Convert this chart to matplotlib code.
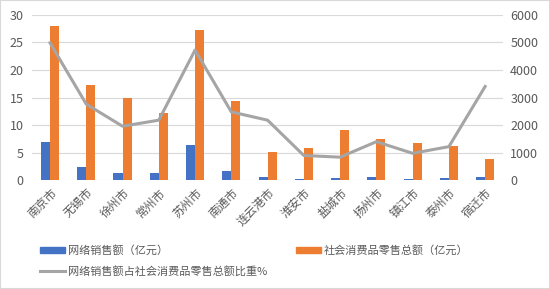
import numpy as np
import matplotlib
matplotlib.use('Agg')
import matplotlib.pyplot as plt
from matplotlib.lines import Line2D
from matplotlib.patches import Patch

plt.rcParams['font.family'] = ['Noto Sans CJK SC', 'DejaVu Sans']

cities = ['南京市', '无锡市', '徐州市', '常州市', '苏州市', '南通市', '连云港市',
          '淮安市', '盐城市', '扬州市', '镇江市', '泰州市', '宿迁市']
online = [1376, 471, 278, 254, 1280, 338, 109, 53, 76, 104, 66, 76, 131]
retail = [5600, 3452, 2982, 2450, 5456, 2873, 1026, 1183, 1811, 1485, 1340, 1244, 773]
ratio = [24.9, 13.8, 9.8, 10.9, 23.6, 12.4, 10.9, 4.5, 4.2, 7.0, 4.9, 6.1, 17.0]

blue = '#4472C4'
orange = '#ED7D31'
gray = '#A5A5A5'
txt = '#595959'

fig = plt.figure(figsize=(5.5, 2.89), dpi=100)
ax = fig.add_axes([0.058, 0.376, 0.857, 0.573])
ax2 = ax.twinx()
x = np.arange(len(cities))
w = 0.25

# bars against the right-hand scale
ax.bar(x - w / 2, online, w, color=blue)
ax.bar(x + w / 2, retail, w, color=orange)
ax.set_ylim(0, 6000)
ax.set_yticks(range(0, 6001, 1000))
ax.grid(axis='y', color='#D9D9D9', linewidth=0.8)
ax.set_axisbelow(True)
ax.set_xlim(-0.5, len(cities) - 0.5)
ax.set_xticks(x)
ax.set_xticklabels(cities, rotation=45, ha='right', rotation_mode='anchor')

# ratio line against the left-hand scale
ax2.plot(x, ratio, color=gray, linewidth=2.2)
ax2.set_ylim(0, 30)
ax2.set_yticks(range(0, 31, 5))

ax.yaxis.tick_right()
ax2.yaxis.tick_left()

for a in (ax, ax2):
    for s in a.spines.values():
        s.set_visible(False)
    a.tick_params(length=0, labelsize=9, colors=txt)
ax.tick_params(axis='x', labelsize=8.5, pad=4)
ax.tick_params(axis='y', pad=5)
ax2.tick_params(axis='y', pad=6)

handles = [Patch(color=blue), Line2D([], [], color=gray, linewidth=2.2), Patch(color=orange)]
labels = ['网络销售额（亿元）', '网络销售额占社会消费品零售总额比重%', '社会消费品零售总额（亿元）']
fig.legend(handles, labels, ncol=2, loc='lower left', bbox_to_anchor=(0.055, 0.007),
           frameon=False, fontsize=8, labelcolor=txt, handlelength=2.2, handleheight=0.5,
           columnspacing=2.6, handletextpad=0.3, labelspacing=0.9)

fig.patches.append(plt.Rectangle((0, 0), 1, 1, transform=fig.transFigure, fill=False,
                                 edgecolor='#D9D9D9', linewidth=1.5))
fig.savefig('out.png', dpi=100)
